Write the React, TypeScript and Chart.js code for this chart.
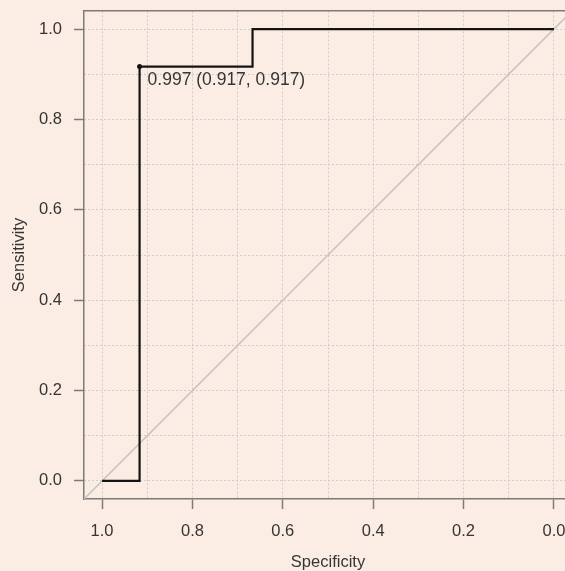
import React, { useEffect, useRef } from "react";
import { Chart, registerables } from "chart.js";

Chart.register(...registerables);

// ---- data ----
const specificity = [1.0, 0.917, 0.917, 0.667, 0.667, 0.0];
const sensitivity = [0.0, 0.0, 0.917, 0.917, 1.0, 1.0];
const bestSpecificity = [0.917];
const bestSensitivity = [0.917];
const bestThreshold = [0.997];
const tickValues = [1.0, 0.8, 0.6, 0.4, 0.2, 0.0];
const gridValues = [1.0, 0.9, 0.8, 0.7, 0.6, 0.5, 0.4, 0.3, 0.2, 0.1, 0.0];
const axisMin = -0.04;
const axisMax = 1.04;

// ---- styles ----
const BG = "#fbede3";
const TEXT = "#353535";
const AXIS = "#7d7a77";
const GRID = "#d0ccc8";
const FONT = '"Liberation Sans", Arial, Helvetica, sans-serif';

const bestLabelPlugin = {
  id: "bestLabel",
  afterDatasetsDraw(chart: any) {
    const { ctx, scales } = chart;
    const xs = scales.x;
    const ys = scales.y;
    ctx.save();
    ctx.font = `17.5px ${FONT}`;
    ctx.fillStyle = TEXT;
    ctx.textAlign = "left";
    ctx.textBaseline = "middle";
    bestSpecificity.forEach((s, i) => {
      const px = xs.getPixelForValue(s);
      const py = ys.getPixelForValue(bestSensitivity[i]);
      const label = `${bestThreshold[i].toFixed(3)} (${s.toFixed(3)}, ${bestSensitivity[i].toFixed(3)})`;
      ctx.fillText(label, px + 8, py + 13.5);
    });
    ctx.restore();
  },
};

export default function App() {
  const ref = useRef<HTMLCanvasElement | null>(null);

  useEffect(() => {
    if (!ref.current) return;
    const curve = specificity.map((s, i) => ({ x: s, y: sensitivity[i] }));
    const best = bestSpecificity.map((s, i) => ({ x: s, y: bestSensitivity[i] }));
    const diagonal = [axisMax, axisMin].map((s) => ({ x: s, y: 1 - s }));

    const setTicks = (vals: number[]) => (s: any) => {
      s.ticks = vals.map((v) => ({ value: v }));
    };

    const chart = new Chart(ref.current, {
      type: "scatter",
      data: {
        datasets: [
          {
            data: best,
            showLine: false,
            pointRadius: 2.5,
            pointBackgroundColor: "#111",
            pointBorderColor: "#111",
            pointBorderWidth: 0,
            xAxisID: "x",
            yAxisID: "y",
          },
          {
            data: curve,
            showLine: true,
            borderColor: "#141414",
            borderWidth: 2.2,
            pointRadius: 0,
            tension: 0,
            xAxisID: "x",
            yAxisID: "y",
          },
          {
            data: diagonal,
            showLine: true,
            borderColor: "#c4c1be",
            borderWidth: 1.5,
            pointRadius: 0,
            xAxisID: "x",
            yAxisID: "y",
          },
        ],
      },
      options: {
        animation: false,
        responsive: false,
        devicePixelRatio: 1,
        layout: { padding: { top: 11, right: 18, bottom: 0, left: 0 } },
        plugins: { legend: { display: false }, tooltip: { enabled: false } },
        events: [],
        scales: {
          x: {
            type: "linear",
            reverse: true,
            min: axisMin,
            max: axisMax,
            position: "bottom",
            afterBuildTicks: setTicks(tickValues),
            afterFit: (s: any) => {
              s.height = 72;
              s.paddingLeft = 0;
              s.paddingRight = 0;
            },
            ticks: {
              callback: (v: any) => Number(v).toFixed(1),
              color: TEXT,
              font: { family: FONT, size: 16.5 },
              padding: 12.5,
              maxRotation: 0,
              autoSkip: false,
            },
            grid: { drawOnChartArea: false, tickLength: 10, tickColor: AXIS, tickWidth: 1.5 },
            border: { color: AXIS, width: 1.5 },
            title: {
              display: true,
              text: "Specificity",
              color: TEXT,
              font: { family: FONT, size: 16.5 },
              padding: { top: 0, bottom: -1.5 },
            },
          },
          xg: {
            type: "linear",
            reverse: true,
            min: axisMin,
            max: axisMax,
            position: "top",
            afterBuildTicks: setTicks(gridValues),
            afterFit: (s: any) => {
              s.height = 0;
              s.paddingLeft = 0;
              s.paddingRight = 0;
            },
            ticks: { display: false },
            grid: { color: GRID, lineWidth: 1, drawTicks: false },
            border: { color: AXIS, width: 1.5, dash: [2, 2] },
          },
          y: {
            type: "linear",
            min: axisMin,
            max: axisMax,
            position: "left",
            afterBuildTicks: setTicks(tickValues),
            afterFit: (s: any) => {
              s.width = 84;
              s.paddingTop = 0;
              s.paddingBottom = 0;
            },
            ticks: {
              callback: (v: any) => Number(v).toFixed(1),
              color: TEXT,
              font: { family: FONT, size: 16.5 },
              padding: 12,
              autoSkip: false,
            },
            grid: { drawOnChartArea: false, tickLength: 10, tickColor: AXIS, tickWidth: 1.5 },
            border: { color: AXIS, width: 1.5 },
            title: {
              display: true,
              text: "Sensitivity",
              color: TEXT,
              font: { family: FONT, size: 16.5 },
              padding: { top: 10, bottom: 10 },
            },
          },
          yg: {
            type: "linear",
            min: axisMin,
            max: axisMax,
            position: "right",
            afterBuildTicks: setTicks(gridValues),
            afterFit: (s: any) => {
              s.width = 0;
              s.paddingTop = 0;
              s.paddingBottom = 0;
            },
            ticks: { display: false },
            grid: { color: GRID, lineWidth: 1, drawTicks: false },
            border: { color: AXIS, width: 1.5, dash: [2, 2] },
          },
        },
      } as any,
      plugins: [bestLabelPlugin],
    });
    return () => chart.destroy();
  }, []);

  return (
    <div
      style={{
        position: "fixed",
        left: 0,
        top: 0,
        width: 565,
        height: 571,
        overflow: "hidden",
        background: BG,
      }}
    >
      <canvas ref={ref} width={590} height={571} style={{ display: "block", width: 590, height: 571 }} />
    </div>
  );
}
